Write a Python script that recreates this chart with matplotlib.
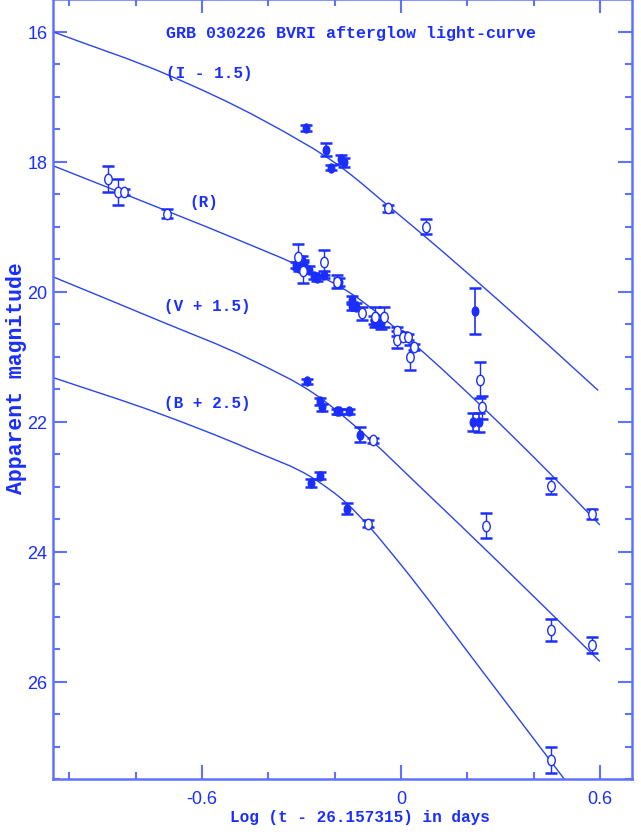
import matplotlib
matplotlib.use("Agg")
import matplotlib.pyplot as plt
import numpy as np
from matplotlib.path import Path
from matplotlib.patches import PathPatch
from matplotlib.transforms import Affine2D
from matplotlib.ticker import MultipleLocator

# ---------------- data (plotted magnitudes, already offset) ----------------
# I - 1.5
i_fill_x = [-0.286, -0.226, -0.211, -0.180, -0.172, 0.223]
i_fill_y = [17.48, 17.82, 18.09, 17.96, 18.01, 20.30]
i_fill_e = [0.05, 0.10, 0.04, 0.07, 0.07, 0.35]
i_open_x = [-0.038, 0.077]
i_open_y = [18.72, 19.00]
i_open_e = [0.06, 0.12]

# R
r_open_x = [-0.883, -0.853, -0.835, -0.705, -0.311, -0.295, -0.232, -0.192, -0.117,
            -0.077, -0.050, -0.011, -0.011, 0.005, 0.023, 0.029, 0.041, 0.238, 0.244,
            0.453, 0.577]
r_open_y = [18.26, 18.46, 18.47, 18.80, 19.46, 19.69, 19.55, 19.85, 20.33,
            20.39, 20.39, 20.61, 20.74, 20.70, 20.70, 21.01, 20.85, 21.36, 21.78,
            22.99, 23.42]
r_open_e = [0.20, 0.20, 0.05, 0.07, 0.19, 0.17, 0.19, 0.10, 0.10,
            0.15, 0.15, 0.07, 0.13, 0.06, 0.05, 0.19, 0.05, 0.28, 0.18,
            0.12, 0.08]
r_fill_x = [-0.317, -0.308, -0.298, -0.295, -0.277, -0.262, -0.253, -0.232, -0.186,
            -0.147, -0.147, -0.135, -0.080, -0.074, -0.059, 0.002, 0.217, 0.235]
r_fill_y = [19.59, 19.63, 19.51, 19.60, 19.66, 19.76, 19.79, 19.74, 19.85,
            20.13, 20.22, 20.23, 20.44, 20.48, 20.48, 20.67, 22.00, 22.01]
r_fill_e = [0.05, 0.05, 0.06, 0.05, 0.05, 0.04, 0.04, 0.05, 0.06,
            0.06, 0.06, 0.05, 0.06, 0.05, 0.10, 0.05, 0.14, 0.15]

# V + 1.5
v_fill_x = [-0.283, -0.244, -0.238, -0.192, -0.186, -0.156, -0.123]
v_fill_y = [21.38, 21.69, 21.78, 21.84, 21.84, 21.84, 22.20]
v_fill_e = [0.04, 0.05, 0.05, 0.04, 0.04, 0.04, 0.12]
v_open_x = [-0.083, 0.256, 0.453, 0.577]
v_open_y = [22.29, 23.60, 25.21, 25.44]
v_open_e = [0.04, 0.19, 0.17, 0.12]

# B + 2.5
b_fill_x = [-0.271, -0.244, -0.162]
b_fill_y = [22.94, 22.83, 23.34]
b_fill_e = [0.06, 0.05, 0.08]
b_open_x = [-0.098, 0.453]
b_open_y = [23.57, 27.20]
b_open_e = [0.05, 0.20]

# fitted model curves: points
i_curve_x = [-1.05, -0.70, -0.42, -0.171, -0.038, 0.077, 0.298, 0.595]
i_curve_y = [16.00, 16.67, 17.35, 18.12, 18.68, 19.17, 20.15, 21.52]
r_curve_x = [-1.05, -0.705, -0.459, -0.30, -0.15, 0.047, 0.247, 0.45, 0.60]
r_curve_y = [18.06, 18.76, 19.27, 19.62, 20.03, 20.84, 21.78, 22.80, 23.59]
v_curve_x = [-1.05, -0.732, -0.459, -0.253, -0.087, 0.047, 0.292, 0.60]
v_curve_y = [19.77, 20.44, 21.03, 21.60, 22.30, 22.95, 24.15, 25.69]
b_curve_x = [-1.05, -0.732, -0.459, -0.256, -0.165, -0.095, -0.005, 0.247, 0.50]
b_curve_y = [21.32, 21.87, 22.42, 22.90, 23.25, 23.62, 24.17, 25.85, 27.55]

band_labels = ["(I - 1.5)", "(R)", "(V + 1.5)", "(B + 2.5)"]
band_label_x = [-0.708, -0.638, -0.714, -0.714]
band_label_y = [16.62, 18.62, 20.22, 21.71]

x_major = [-0.6, 0.0, 0.6]
x_major_labels = ["-0.6", "0", "0.6"]
y_major = [16, 18, 20, 22, 24, 26]

title_text = "GRB 030226 BVRI afterglow light-curve"
xlabel_text = "Log (t - 26.157315) in days"
ylabel_text = "Apparent magnitude"

# ---------------- styling ----------------
BLUE = "#1a2fff"
LINE = "#2a45e8"
SPINE = "#5f72ff"
mono = ["Liberation Mono", "DejaVu Sans Mono"]


def smooth_path(xs, ys):
    """Smooth cubic (Hermite/Bezier) path through the read curve points."""
    x = np.asarray(xs, float)
    y = np.asarray(ys, float)
    h = np.diff(x)
    s = np.diff(y) / h
    m = np.empty_like(x)
    m[0], m[-1] = s[0], s[-1]
    m[1:-1] = (s[:-1] * h[1:] + s[1:] * h[:-1]) / (h[:-1] + h[1:])
    verts = [(x[0], y[0])]
    codes = [Path.MOVETO]
    for k in range(len(h)):
        d = h[k] / 3.0
        verts += [(x[k] + d, y[k] + m[k] * d),
                  (x[k + 1] - d, y[k + 1] - m[k + 1] * d),
                  (x[k + 1], y[k + 1])]
        codes += [Path.CURVE4] * 3
    return Path(verts, codes)


fig = plt.figure(figsize=(6.41, 8.37), dpi=100)
ax = fig.add_axes([53 / 641, 1 - 780 / 837, (632 - 53) / 641, 780 / 837 - 0.0005])

ell = Path.unit_circle().transformed(Affine2D().scale(0.72, 1.0))

for cx, cy in [(i_curve_x, i_curve_y), (r_curve_x, r_curve_y),
               (v_curve_x, v_curve_y), (b_curve_x, b_curve_y)]:
    ax.add_patch(PathPatch(smooth_path(cx, cy), fill=False, edgecolor=LINE,
                           lw=1.0, zorder=2))

for fx, fy, fe in [(i_fill_x, i_fill_y, i_fill_e), (r_fill_x, r_fill_y, r_fill_e),
                   (v_fill_x, v_fill_y, v_fill_e), (b_fill_x, b_fill_y, b_fill_e)]:
    ax.errorbar(fx, fy, yerr=fe, fmt="none", ecolor=BLUE, elinewidth=1.2,
                capsize=4, capthick=1.8, zorder=3)
    ax.plot(fx, fy, linestyle="none", marker=ell, markersize=6.5,
            markerfacecolor=BLUE, markeredgecolor=BLUE, zorder=4)

for ox, oy, oe in [(i_open_x, i_open_y, i_open_e), (r_open_x, r_open_y, r_open_e),
                   (v_open_x, v_open_y, v_open_e), (b_open_x, b_open_y, b_open_e)]:
    ax.errorbar(ox, oy, yerr=oe, fmt="none", ecolor=BLUE, elinewidth=1.0,
                capsize=4, capthick=1.8, zorder=3)
    ax.plot(ox, oy, linestyle="none", marker=ell, markersize=7.5,
            markerfacecolor="white", markeredgecolor=BLUE, markeredgewidth=1.0, zorder=4)

for lab, lx, ly in zip(band_labels, band_label_x, band_label_y):
    ax.text(lx, ly, lab, color=BLUE, fontsize=11.5, family=mono, fontweight="bold",
            ha="left", va="center")

ax.text(0.515, 0.958, title_text, transform=ax.transAxes, color=BLUE, fontsize=12,
        family=mono, fontweight="bold", ha="center", va="center")

ax.set_xlim(-1.049, 0.697)
ax.set_ylim(27.5, 15.503)

ax.set_xticks(x_major)
ax.set_xticklabels(x_major_labels)
ax.xaxis.set_minor_locator(MultipleLocator(0.2))
ax.set_yticks(y_major)
ax.yaxis.set_minor_locator(MultipleLocator(0.5))

ax.tick_params(which="both", direction="in", top=True, right=True, color=SPINE,
               labelcolor=BLUE, labelsize=13, width=1.5)
ax.tick_params(which="major", length=10)
ax.tick_params(which="minor", length=5)
ax.tick_params(axis="x", which="major", pad=8)
ax.tick_params(axis="y", which="major", pad=4)
for lab in ax.get_xticklabels() + ax.get_yticklabels():
    lab.set_family(["Liberation Sans", "DejaVu Sans"])

for s in ax.spines.values():
    s.set_color(SPINE)
    s.set_linewidth(1.8)

ax.set_xlabel(xlabel_text, color=BLUE, fontsize=11.5, family=mono, fontweight="bold")
ax.xaxis.set_label_coords(0.530, -0.039)
ax.set_ylabel(ylabel_text, color=BLUE, fontsize=15.5, family=mono, fontweight="bold")
ax.yaxis.set_label_coords(-0.045, 0.515)

fig.savefig("out.png", dpi=100)
